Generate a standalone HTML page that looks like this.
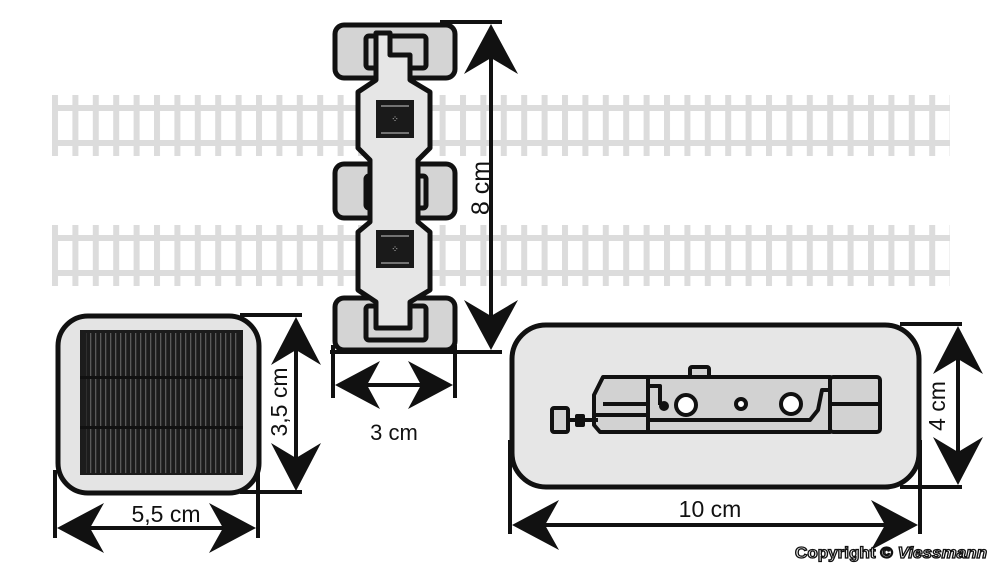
<!DOCTYPE html>
<html><head><meta charset="utf-8"><style>
html,body{margin:0;padding:0;background:#fff;}
svg{display:block;}
text{font-family:"Liberation Sans",sans-serif;fill:#111;}
</style></head><body>
<svg width="1000" height="572" viewBox="0 0 1000 572" xmlns="http://www.w3.org/2000/svg">
<defs>
<pattern id="sl" x="52" y="0" width="20.4" height="572" patternUnits="userSpaceOnUse">
<rect x="0" y="0" width="6" height="572" fill="#dcdcdc"/>
</pattern>
<pattern id="cells" x="80" y="0" width="5" height="572" patternUnits="userSpaceOnUse">
<rect x="0" y="0" width="1.3" height="572" fill="#5a5a5a"/>
</pattern>
</defs>
<!-- tracks -->
<g>
<rect x="52" y="95" width="898" height="61" fill="url(#sl)"/>
<rect x="52" y="105" width="898" height="6" fill="#dcdcdc"/>
<rect x="52" y="140" width="898" height="6" fill="#dcdcdc"/>
<rect x="52" y="225" width="898" height="61" fill="url(#sl)"/>
<rect x="52" y="235" width="898" height="6" fill="#dcdcdc"/>
<rect x="52" y="270" width="898" height="6" fill="#dcdcdc"/>
</g>

<!-- top-view loco -->
<g stroke="#111" stroke-width="5" stroke-linejoin="round">
<rect x="335" y="25" width="120" height="53" rx="9" fill="#d4d4d4"/>
<rect x="335" y="164" width="120" height="54" rx="9" fill="#d4d4d4"/>
<rect x="335" y="298" width="120" height="52" rx="9" fill="#d4d4d4"/>
<rect x="366" y="36" width="60" height="32" rx="3" fill="#d4d4d4"/>
<rect x="366" y="176" width="60" height="32" rx="3" fill="#d4d4d4"/>
<rect x="366" y="306" width="60" height="34" rx="3" fill="#d4d4d4"/>
<path d="M376,33 L390,33 L390,55 L410,55 L410,80 L430,92 L430,148 L418,160 L418,222 L430,232 L430,290 L410,302 L410,328 L376,328 L376,302 L358,290 L358,232 L370,222 L370,160 L358,148 L358,92 L376,80 Z" fill="#e6e6e6"/>
</g>
<rect x="376" y="100" width="38" height="38" fill="#1a1a1a"/>
<rect x="376" y="230" width="38" height="38" fill="#1a1a1a"/>
<g stroke="#ccc" stroke-width="1">
<line x1="381" y1="106" x2="409" y2="106"/><line x1="381" y1="133" x2="409" y2="133"/>
<line x1="381" y1="236" x2="409" y2="236"/><line x1="381" y1="263" x2="409" y2="263"/>
</g>
<text x="395" y="122" font-size="9" text-anchor="middle" style="fill:#ddd">⁘</text>
<text x="395" y="252" font-size="9" text-anchor="middle" style="fill:#ddd">⁘</text>

<!-- 8cm dimension -->
<g stroke="#111" stroke-width="4">
<line x1="440" y1="22" x2="502" y2="22"/>
<line x1="330" y1="352" x2="502" y2="352"/>
<line x1="491" y1="50" x2="491" y2="325"/>
<line x1="333" y1="345" x2="333" y2="398"/>
<line x1="455" y1="345" x2="455" y2="398"/>
<line x1="350" y1="385" x2="440" y2="385"/>
</g>
<g fill="#111">
<path d="M491,24 L518,74 L491,58 L464,74 Z"/>
<path d="M491,350 L518,300 L491,316 L464,300 Z"/>
<path d="M335,385 L380,361 L367,385 L380,409 Z"/>
<path d="M453,385 L408,361 L421,385 L408,409 Z"/>
</g>
<text transform="translate(489,188) rotate(-90)" font-size="25" text-anchor="middle">8 cm</text>
<text x="394" y="440" font-size="22" text-anchor="middle">3 cm</text>

<!-- solar panel -->
<rect x="58" y="316" width="201" height="177" rx="30" fill="#e4e4e4" stroke="#111" stroke-width="5"/>
<rect x="80" y="330" width="163" height="145" fill="#1c1c1c"/>
<rect x="86" y="333" width="152" height="140" fill="url(#cells)"/>
<rect x="80" y="376" width="163" height="3" fill="#111"/>
<rect x="80" y="426" width="163" height="3" fill="#111"/>
<g stroke="#111" stroke-width="4">
<line x1="240" y1="315" x2="302" y2="315"/>
<line x1="240" y1="492" x2="302" y2="492"/>
<line x1="296" y1="340" x2="296" y2="470"/>
<line x1="55" y1="470" x2="55" y2="538"/>
<line x1="258" y1="470" x2="258" y2="538"/>
<line x1="80" y1="528" x2="235" y2="528"/>
</g>
<g fill="#111">
<path d="M296,317 L321,365 L296,350 L271,365 Z"/>
<path d="M296,491 L321,443 L296,458 L271,443 Z"/>
<path d="M57,528 L104,503 L90,528 L104,553 Z"/>
<path d="M256,528 L209,503 L223,528 L209,553 Z"/>
</g>
<text transform="translate(287,402) rotate(-90)" font-size="23" text-anchor="middle">3,5 cm</text>
<text x="166" y="522" font-size="23" text-anchor="middle">5,5 cm</text>

<!-- side view -->
<rect x="512" y="325" width="407" height="162" rx="34" fill="#e6e6e6" stroke="#111" stroke-width="5"/>
<g stroke="#111" stroke-width="4">
<line x1="900" y1="324" x2="962" y2="324"/>
<line x1="900" y1="487" x2="962" y2="487"/>
<line x1="958" y1="350" x2="958" y2="462"/>
<line x1="510" y1="440" x2="510" y2="534"/>
<line x1="920" y1="440" x2="920" y2="534"/>
<line x1="535" y1="525" x2="895" y2="525"/>
</g>
<g fill="#111">
<path d="M958,326 L983,374 L958,359 L933,374 Z"/>
<path d="M958,485 L983,437 L958,452 L933,437 Z"/>
<path d="M512,525 L559,500 L545,525 L559,550 Z"/>
<path d="M918,525 L871,500 L885,525 L871,550 Z"/>
</g>
<text transform="translate(945,406) rotate(-90)" font-size="23" text-anchor="middle">4 cm</text>
<text x="710" y="517" font-size="23" text-anchor="middle">10 cm</text>

<g stroke="#111" stroke-width="4" stroke-linejoin="round" fill="#d2d2d2">
<rect x="690" y="367" width="19" height="10" rx="2"/>
<path d="M603,377 L830,377 L830,432 L600,432 L594,425 L594,395 Z"/>
<rect x="830" y="377" width="50" height="55" rx="3"/>
<line x1="830" y1="404" x2="880" y2="404"/>
<line x1="648" y1="377" x2="648" y2="432"/>
<line x1="603" y1="404" x2="648" y2="404"/>
<line x1="596" y1="415" x2="648" y2="415"/>
<path d="M648,386 L660,386 L660,405" fill="none"/>
<path d="M648,420 L810,420 L818,410 L822,390 L830,390" fill="none"/>
<rect x="552" y="408" width="16" height="24" rx="2"/>
<line x1="568" y1="420" x2="598" y2="420"/>
<circle cx="686" cy="405" r="10" fill="#fff"/>
<circle cx="741" cy="404" r="5" fill="#fff"/>
<circle cx="791" cy="404" r="10" fill="#fff"/>
</g>
<rect x="575" y="414" width="10" height="13" rx="2" fill="#111"/>
<circle cx="664" cy="406" r="5" fill="#111"/>

<text x="795" y="558" font-size="16" font-weight="bold" textLength="192" lengthAdjust="spacingAndGlyphs" style="fill:#fff;stroke:#111;stroke-width:1.3">Copyright © <tspan font-style="italic">Viessmann</tspan></text>
</svg>
</body></html>
